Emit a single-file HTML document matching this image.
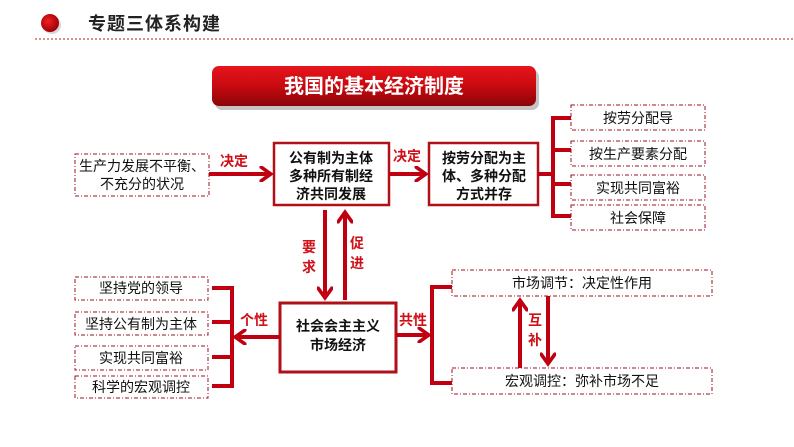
<!DOCTYPE html>
<html><head><meta charset="utf-8"><style>
body{margin:0;width:794px;height:447px;background:#fff;overflow:hidden}
svg{display:block}
text{font-family:"Liberation Sans","Noto Sans CJK SC",sans-serif}
</style></head><body>
<svg width="794" height="447" viewBox="0 0 794 447">
<defs>
<linearGradient id="g" x1="0" y1="0" x2="0" y2="1"><stop offset="0" stop-color="#e8141c"/><stop offset="0.5" stop-color="#c80a10"/><stop offset="1" stop-color="#8a0408"/></linearGradient>
<radialGradient id="c" cx="0.4" cy="0.4" r="0.6"><stop offset="0" stop-color="#f02020"/><stop offset="1" stop-color="#a00008"/></radialGradient>
<marker id="a" markerWidth="4" markerHeight="4" refX="2.6" refY="2" orient="auto" markerUnits="strokeWidth"><path d="M0,0 L2.8,2 L0,4" fill="none" stroke="#c00010" stroke-width="0.9"/></marker>
</defs>
<circle cx="52" cy="25" r="9" fill="#888" opacity="0.35"/>
<circle cx="50" cy="23" r="9" fill="url(#c)"/>
<text x="88" y="30" font-size="18" font-weight="bold" fill="#222" letter-spacing="1">专题三体系构建</text>
<line x1="35" y1="39" x2="794" y2="39" stroke="#b02020" stroke-dasharray="2,2" stroke-width="1"/>
<rect x="215" y="70" width="324" height="40" rx="7" fill="#555" opacity="0.35"/>
<rect x="212" y="66" width="324" height="40" rx="7" fill="url(#g)"/>
<text x="374" y="93" font-size="20" font-weight="bold" fill="#fff" text-anchor="middle">我国的基本经济制度</text>
<g fill="none" stroke="#a01020" stroke-width="1" stroke-dasharray="4,2,1,2">
<rect x="75" y="154" width="134" height="42"/>
<rect x="571" y="105" width="134" height="25"/>
<rect x="571" y="141" width="134" height="25"/>
<rect x="571" y="175" width="134" height="25"/>
<rect x="571" y="205" width="134" height="25"/>
<rect x="75" y="277" width="133" height="23"/>
<rect x="75" y="312" width="133" height="23"/>
<rect x="75" y="346" width="133" height="24"/>
<rect x="75" y="376" width="133" height="22"/>
<rect x="452" y="270" width="260" height="26"/>
<rect x="452" y="368" width="260" height="26"/>
</g>
<g fill="#fff" stroke="#b01018">
<rect x="274" y="143" width="115" height="62" stroke-width="2.5"/>
<rect x="429" y="143" width="109" height="62" stroke-width="2.5"/>
<rect x="280" y="303" width="116" height="69" stroke-width="3"/>
</g>
<g fill="none" stroke="#fff" stroke-width="0.8">
<rect x="276.5" y="145.5" width="110" height="57"/>
<rect x="431.5" y="145.5" width="104" height="57"/>
<rect x="283" y="306" width="110" height="63"/>
</g>
<g stroke="#c00010" stroke-width="4" fill="none">
<line x1="209" y1="174" x2="270" y2="174" marker-end="url(#a)"/>
<line x1="389" y1="174" x2="425" y2="174" marker-end="url(#a)"/>
<path d="M538 174H553M571 118H553V216H571M553 150H571M553 184H571"/>
<line x1="325" y1="210" x2="325" y2="297" marker-end="url(#a)"/>
<line x1="345" y1="300" x2="345" y2="213" marker-end="url(#a)"/>
<line x1="280" y1="337" x2="236" y2="337" marker-end="url(#a)"/>
<path d="M212 288H232V386H212M212 322H232M212 357H232"/>
<line x1="396" y1="335" x2="428" y2="335" marker-end="url(#a)"/>
<path d="M452 287H432V383H452"/>
<line x1="520" y1="368" x2="520" y2="301" marker-end="url(#a)"/>
<line x1="548" y1="296" x2="548" y2="363" marker-end="url(#a)"/>
</g>
<g font-size="14" font-weight="bold" fill="#d01018">
<text x="220" y="166">决定</text>
<text x="393" y="161">决定</text>
<text x="302" y="252">要</text><text x="302" y="272">求</text>
<text x="350" y="248">促</text><text x="350" y="268">进</text>
<text x="240" y="325">个性</text>
<text x="399" y="325">共性</text>
<text x="528" y="325">互</text><text x="528" y="345">补</text>
</g>
<g font-size="14" fill="#111" text-anchor="middle">
<text x="142" y="171">生产力发展不平衡、</text>
<text x="142" y="189">不充分的状况</text>
<text x="638" y="123">按劳分配导</text>
<text x="638" y="159">按生产要素分配</text>
<text x="638" y="193">实现共同富裕</text>
<text x="638" y="223">社会保障</text>
<text x="141" y="293">坚持党的领导</text>
<text x="141" y="329">坚持公有制为主体</text>
<text x="141" y="363">实现共同富裕</text>
<text x="141" y="392">科学的宏观调控</text>
<text x="582" y="288">市场调节：决定性作用</text>
<text x="582" y="386">宏观调控：弥补市场不足</text>
</g>
<g font-size="14" font-weight="bold" fill="#111" text-anchor="middle">
<text x="331" y="163">公有制为主体</text>
<text x="331" y="181">多种所有制经</text>
<text x="331" y="199">济共同发展</text>
<text x="484" y="163">按劳分配为主</text>
<text x="484" y="181">体、多种分配</text>
<text x="484" y="199">方式并存</text>
<text x="338" y="331">社会会主主义</text>
<text x="338" y="350">市场经济</text>
</g>
</svg>
</body></html>
